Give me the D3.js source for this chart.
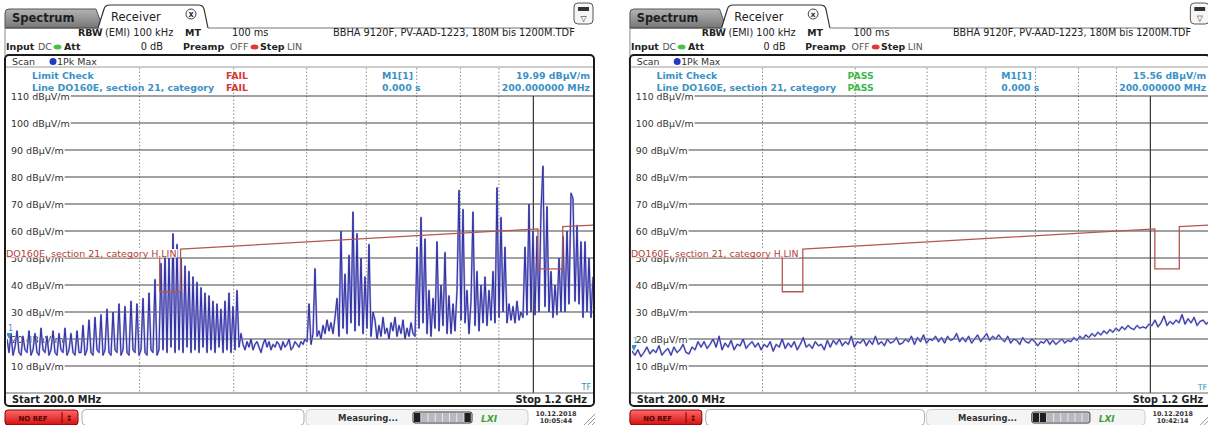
<!DOCTYPE html>
<html>
<head>
<meta charset="utf-8">
<script src="https://cdn.jsdelivr.net/npm/d3@7"></script>
<style>
  html, body { margin: 0; padding: 0; background: #fff; }
  svg { display: block; font-family: "DejaVu Sans", Verdana, sans-serif; }
</style>
</head>
<body>
<svg id="chart" width="1208" height="425"></svg>
<script>
// sweep range and grid (MHz, dBuV/m)
var startFreq = 200, stopFreq = 1200;
var levelTicks = [10, 20, 30, 40, 50, 60, 70, 80, 90, 100, 110];
var minorFreqs = [300, 400, 500, 600, 700, 800, 900];
var majorFreqs = [1000];

// DO160E section 21 category H limit line
var limitFreqs  = [200, 319, 319, 340, 340, 1014, 1014, 1094, 1094, 1200];
var limitLevels = [50.4, 50.4, 37.5, 37.5, 53.3, 60.8, 46, 46, 61.6, 62.2];

// 1Pk Max trace, sweep points spread evenly (log) from start to stop
var levelsFail = [
  20, 15, 22, 14, 17, 23, 15, 14, 21, 16, 15, 23, 14, 16, 22, 15, 14, 24, 16, 15,
  21, 14, 16, 23, 15, 14, 22, 16, 15, 24, 14, 16, 22, 15, 14, 23, 15,
  15, 25, 14, 16, 27, 15, 14, 28, 16, 15, 29, 14, 16, 31, 15, 14, 30, 16, 15, 33, 14,
  16, 32, 15, 14, 34, 16, 15, 33, 14, 16, 35, 15, 14, 37, 16, 15, 42, 14, 16,
  48, 16, 52, 15, 50, 17, 59, 15, 55, 16, 50, 15, 47, 17, 45, 15, 43, 16, 41, 15,
  39, 17, 37, 15, 36, 16, 34, 15, 33, 17, 31, 15, 34, 16, 37, 15, 32, 16, 38, 17,
  22, 18, 16, 19, 17, 20, 16, 18, 19, 17, 15, 18, 20, 17, 19, 16, 18, 17, 19, 18,
  16, 19, 17, 18, 20, 16, 17, 19, 18, 17, 19, 18, 20,
  19, 33, 18, 22, 46, 21, 23, 20, 25, 22, 27, 23, 26, 22, 28,
  35, 21, 60, 24, 44, 22, 51, 26, 67, 23, 59, 25, 50, 22, 43, 24, 55, 21, 30,
  27, 20, 25, 21, 28, 22, 24, 20, 26, 23, 28, 21, 25, 22, 27, 20, 24, 21, 26, 22,
  21, 54, 24, 65, 26, 57, 22, 38, 21, 35, 24, 56, 23, 40, 25, 52, 22, 36, 22, 33,
  23, 38, 75, 27, 68, 26, 38, 22, 34, 67, 25, 45, 23, 40, 26, 43, 25, 38, 27, 45,
  26, 76, 28, 65, 30, 54, 26, 33, 27, 32, 26, 34, 27, 30, 28, 54, 29, 70, 30, 60,
  29, 58, 30, 68, 84, 32, 69, 30, 45, 28, 40, 29, 50, 30, 58, 30, 60, 33, 74, 72,
  34, 62, 33, 56, 28, 56, 30, 50, 28, 43
];
var levelsPass = [
  15.6, 14, 16, 13.5, 15, 17, 14.5, 16, 15, 17.5, 14, 15.5, 16.5, 14, 17, 15, 16, 18, 15, 14.5, 17, 16, 19,
  17, 19, 16.5, 18, 20, 17, 21, 16, 18.5, 17, 19.5, 16, 18, 17.5, 20, 16.5, 18, 19, 17, 18.5,
  16, 18, 17, 19, 15.5, 18, 17, 20, 16.5, 18.5, 17, 19, 16, 18, 20.5, 17, 18, 16.5, 19, 17.5, 18, 16, 19.5,
  17, 19.5, 18, 20, 17.5, 19, 18, 21, 17, 19, 18.5, 20, 17.5, 19.5, 18, 21, 18, 19, 17.5, 20, 18.5, 19, 20.5, 18,
  18.5, 20, 19, 21, 18, 20.5, 19, 21.5, 18.5, 20, 19.5, 21, 19, 20.5, 18.5, 21, 19.5, 20, 22, 19, 20.5, 19, 21,
  18.5, 20, 21.5, 19, 20.5, 22, 19.5, 21, 20, 21.5,
  20, 19, 21, 18.5, 20, 19.5, 18, 20.5, 19, 18.5, 20, 19, 17.5, 19, 18.5, 20, 18, 19.5, 18, 19, 20, 18.5, 19.5,
  19, 20.5, 19.5, 21, 20, 21.5, 20.5, 22, 21, 22.5, 21.5, 23, 22, 23.5, 22.5, 24, 23, 24.5, 23.5, 25, 24, 23.5, 25, 24, 24.5,
  24, 25.5, 25, 27, 24.5, 26, 28.5, 25, 26.5, 25.5, 27, 26, 29, 25.5, 27.5, 26, 28, 25, 26.5, 27, 25.5, 26.5
];

var markerLevels = [19.99, 15.56];
var checkResults = ["FAIL", "PASS"];
var timeStamps = ["10:05:44", "10:42:14"];
var progressStates = [[1, 0, 0, 0, 0, 0, 0, 1], [1, 1, 0, 0, 0, 0, 0, 0]];

var svg = d3.select("#chart");
var defs = svg.append("defs");
var tabGrad = defs.append("linearGradient").attr("id", "tabGrad").attr("x1", 0).attr("y1", 0).attr("x2", 0).attr("y2", 1);
tabGrad.append("stop").attr("offset", "0%").attr("stop-color", "#b4b4b4");
tabGrad.append("stop").attr("offset", "100%").attr("stop-color", "#767676");
var refGrad = defs.append("linearGradient").attr("id", "refGrad").attr("x1", 0).attr("y1", 0).attr("x2", 0).attr("y2", 1);
refGrad.append("stop").attr("offset", "0%").attr("stop-color", "#ff6a6a");
refGrad.append("stop").attr("offset", "100%").attr("stop-color", "#d01010");
defs.append("clipPath").attr("id", "plotClip")
  .append("rect").attr("x", 7).attr("y", 67).attr("width", 586).attr("height", 326);

var infoBlue = "#3a92c6";

var txt = function (g, x, y, s, size, weight, fill, anchor) {
  return g.append("text")
    .attr("x", x).attr("y", y)
    .attr("font-size", size)
    .attr("font-weight", weight || "normal")
    .attr("fill", fill || "#222")
    .attr("text-anchor", anchor || "start")
    .text(s);
};

var drawPanel = function (p) {
  var g = svg.append("g").attr("transform", "translate(" + p.ox + ",0) scale(" + p.sx + ",1)");
  var x = d3.scaleLog().domain([startFreq, stopFreq]).range([7, 593]);
  var y = d3.scaleLinear().domain([0, 120]).range([393, 69]);

  // tabs
  g.append("path").attr("d", "M5,28 V13 Q5,9 9,9 H96 L103,28 Z")
    .attr("fill", "url(#tabGrad)").attr("stroke", "#555");
  txt(g, 12, 22, "Spectrum", 11.5, "bold", "#1e1e1e");
  g.append("path").attr("d", "M98,28 L104,9 Q105,5 110,5 H198 Q203,5 204,9 L208,28")
    .attr("fill", "#fff").attr("stroke", "#333").attr("stroke-width", 1.2);
  txt(g, 111, 21, "Receiver", 11.5, "normal", "#1e1e1e");
  g.append("circle").attr("cx", 191).attr("cy", 14).attr("r", 5).attr("fill", "#fff").attr("stroke", "#444");
  txt(g, 191, 17, "x", 8, "bold", "#333", "middle");
  g.append("line").attr("x1", 5).attr("x2", 98).attr("y1", 28).attr("y2", 28).attr("stroke", "#555");
  g.append("line").attr("x1", 208).attr("x2", 572).attr("y1", 28).attr("y2", 28).attr("stroke", "#777");
  g.append("line").attr("x1", 5).attr("x2", 5).attr("y1", 28).attr("y2", 56).attr("stroke", "#888");

  // toolbar button top right
  g.append("rect").attr("x", 574).attr("y", 3).attr("width", 19).attr("height", 21).attr("rx", 4)
    .attr("fill", "#f6f6f6").attr("stroke", "#555");
  g.append("rect").attr("x", 578).attr("y", 7).attr("width", 11).attr("height", 4).attr("fill", "#333");
  txt(g, 583.5, 21, "\u25BD", 8, "normal", "#333", "middle");

  // setting lines
  txt(g, 78, 36, "RBW", 9.5, "bold");
  txt(g, 105, 36, "(EMI) 100 kHz", 9.8);
  txt(g, 185, 36, "MT", 9.5, "bold");
  txt(g, 232, 36, "100 ms", 9.8);
  txt(g, 333, 36, "BBHA 9120F, PV-AAD-1223, 180M bis 1200M.TDF", 9.8);
  txt(g, 6, 50, "Input", 9.5, "bold");
  txt(g, 38, 50, "DC", 9.5, "normal", "#555");
  g.append("ellipse").attr("cx", 57.5).attr("cy", 47).attr("rx", 4).attr("ry", 2.5).attr("fill", "#4cc04c");
  txt(g, 64, 50, "Att", 9.5, "bold");
  txt(g, 163, 50, "0 dB", 9.8, "normal", "#222", "end");
  txt(g, 183, 50, "Preamp", 9.5, "bold");
  txt(g, 230, 50, "OFF", 9.5, "normal", "#555");
  g.append("ellipse").attr("cx", 254.5).attr("cy", 47).attr("rx", 4).attr("ry", 2.5).attr("fill", "#e03838");
  txt(g, 260, 50, "Step", 9.5, "bold");
  txt(g, 287, 50, "LIN", 9.5, "normal", "#555");

  // diagram frame
  g.append("rect").attr("x", 5).attr("y", 55).attr("width", 589).attr("height", 351).attr("rx", 4)
    .attr("fill", "none").attr("stroke", "#1a1a1a").attr("stroke-width", 2);
  txt(g, 12, 65, "Scan", 9.5, "normal", "#333");
  g.append("circle").attr("cx", 53).attr("cy", 61.5).attr("r", 3.5).attr("fill", "#2238c8");
  txt(g, 57, 65, "1Pk Max", 9.5, "normal", "#333");
  g.append("line").attr("x1", 6).attr("x2", 593).attr("y1", 67).attr("y2", 67).attr("stroke", "#9a9a9a");

  // vertical grid
  g.selectAll(".vminor").data(minorFreqs).enter().append("line")
    .attr("x1", function (d) { return x(d); }).attr("x2", function (d) { return x(d); })
    .attr("y1", 68).attr("y2", 393)
    .attr("stroke", "#8a8a8a").attr("stroke-dasharray", "1.5,2");
  g.selectAll(".vmajor").data(majorFreqs).enter().append("line")
    .attr("x1", function (d) { return x(d); }).attr("x2", function (d) { return x(d); })
    .attr("y1", y(110)).attr("y2", 393)
    .attr("stroke", "#333").attr("stroke-width", 1.2);

  // horizontal grid with level labels
  levelTicks.forEach(function (v) {
    var t = txt(g, 11, y(v), v + " dB\u00B5V/m", 9.5, "normal", "#333").attr("dominant-baseline", "central");
    var w = t.node().getComputedTextLength();
    g.append("line").attr("x1", 12 + w).attr("x2", 593).attr("y1", y(v)).attr("y2", y(v))
      .attr("stroke", "#444").attr("stroke-width", 1.2);
  });

  // trace
  var n = p.levels.length;
  var sweep = p.levels.map(function (v, i) {
    return [startFreq * Math.pow(stopFreq / startFreq, i / (n - 1)), v];
  });
  var traceLine = d3.line().x(function (d) { return x(d[0]); }).y(function (d) { return y(d[1]); });
  var pg = g.append("g").attr("clip-path", "url(#plotClip)");
  pg.append("path").datum(sweep).attr("d", traceLine)
    .attr("fill", "none").attr("stroke", "#a0a0da").attr("stroke-width", 2).attr("stroke-linejoin", "round");
  pg.append("path").datum(sweep).attr("d", traceLine)
    .attr("fill", "none").attr("stroke", "#22229c").attr("stroke-width", 0.9);

  // limit line
  var limit = limitFreqs.map(function (f, i) { return [f, limitLevels[i]]; });
  pg.append("path").datum(limit).attr("d", traceLine)
    .attr("fill", "none").attr("stroke", "#b4574e").attr("stroke-width", 1.3);
  var lab = txt(g, 6, 257, "DO160E, section 21, category H.LIN", 9.5, "normal", "#b0443a");
  var lw = lab.node().getComputedTextLength();
  g.insert("rect", "text:last-child").attr("x", 7).attr("y", 249).attr("width", lw).attr("height", 8.5).attr("fill", "#fff");

  // marker M1
  var mx = x(startFreq), my = y(p.marker);
  pg.append("path").attr("d", "M" + (mx - 1) + "," + (my - 6) + " L" + (mx + 5) + "," + (my - 6) + " L" + (mx + 2) + "," + my + " Z")
    .attr("fill", infoBlue);
  txt(g, 8, my - 8, "1", 8, "normal", infoBlue);

  // limit check and marker info
  var resColor = p.result === "FAIL" ? "#d63a34" : "#3cb84a";
  txt(g, 32, 79, "Limit Check", 9.4, "bold", infoBlue);
  txt(g, 32, 91, "Line DO160E, section 21, category", 9.4, "bold", infoBlue);
  txt(g, 226, 79, p.result, 9.4, "bold", resColor);
  txt(g, 226, 91, p.result, 9.4, "bold", resColor);
  txt(g, 382, 79, "M1[1]", 9.4, "bold", infoBlue);
  txt(g, 382, 91, "0.000 s", 9.4, "bold", infoBlue);
  txt(g, 590, 79, p.marker.toFixed(2) + " dB\u00B5V/m", 9.4, "bold", infoBlue, "end");
  txt(g, 590, 91, "200.000000 MHz", 9.4, "bold", infoBlue, "end");

  // footer of diagram
  g.append("line").attr("x1", 6).attr("x2", 593).attr("y1", 393).attr("y2", 393).attr("stroke", "#666");
  txt(g, 591, 390, "TF", 8, "normal", "#2c94b0", "end");
  txt(g, 12, 403, "Start 200.0 MHz", 9.8, "bold");
  txt(g, 587, 403, "Stop 1.2 GHz", 9.8, "bold", "#222", "end");

  // status bar
  g.append("rect").attr("x", 5).attr("y", 410).attr("width", 73).attr("height", 15).attr("rx", 3)
    .attr("fill", "url(#refGrad)").attr("stroke", "#8a0000");
  txt(g, 33, 421, "NO REF", 7, "bold", "#5a0000", "middle");
  g.append("line").attr("x1", 62).attr("x2", 62).attr("y1", 412).attr("y2", 423).attr("stroke", "#7a0000");
  txt(g, 69, 421, "\u2195", 8, "bold", "#5a0000", "middle");
  g.append("rect").attr("x", 82).attr("y", 409.5).attr("width", 222).attr("height", 16).attr("rx", 4)
    .attr("fill", "#fff").attr("stroke", "#aaa");
  g.append("rect").attr("x", 306).attr("y", 409.5).attr("width", 222).attr("height", 16).attr("rx", 4)
    .attr("fill", "#f4f4f4").attr("stroke", "#ccc");
  txt(g, 338, 421, "Measuring...", 8.5, "bold", "#333");
  g.selectAll(".seg").data(p.progress).enter().append("rect")
    .attr("x", function (d, i) { return 414 + i * 7.2; }).attr("y", 413)
    .attr("width", 6.4).attr("height", 9)
    .attr("fill", function (d) { return d ? "#1e1e1e" : "#b8b8c0"; });
  g.append("rect").attr("x", 413).attr("y", 412).attr("width", 59).attr("height", 11).attr("rx", 2)
    .attr("fill", "none").attr("stroke", "#333");
  txt(g, 481, 422, "LXI", 9, "bold", "#3f9e3f").attr("font-style", "italic");
  txt(g, 556, 416, "10.12.2018", 6.5, "bold", "#333", "middle");
  txt(g, 556, 423, p.time, 6.5, "bold", "#333", "middle");
  [0, 4, 8].forEach(function (o) {
    g.append("line").attr("x1", 584 + o).attr("y1", 425).attr("x2", 595).attr("y2", 414 + o)
      .attr("stroke", "#999");
  });
};

var panels = [
  {ox: 0, sx: 1, levels: levelsFail, marker: markerLevels[0], result: checkResults[0], time: timeStamps[0], progress: progressStates[0]},
  {ox: 625, sx: 0.985, levels: levelsPass, marker: markerLevels[1], result: checkResults[1], time: timeStamps[1], progress: progressStates[1]}
];
panels.forEach(function (p) { drawPanel(p); });
</script>
</body>
</html>
